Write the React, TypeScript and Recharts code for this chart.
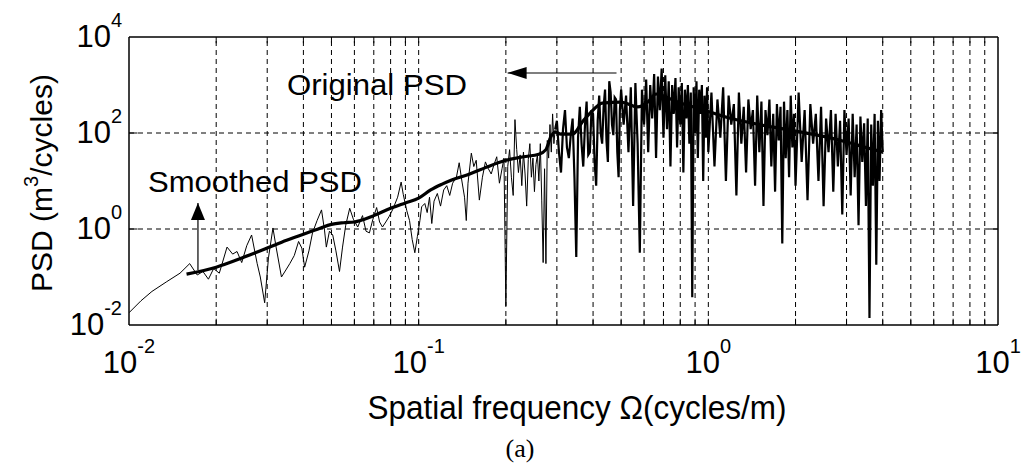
import { LineChart, Line, XAxis, YAxis, ReferenceLine, ReferenceDot, Label } from 'recharts';

const FONT = '"Liberation Sans", Arial, sans-serif';

// axis ticks / grid positions
const xDecades = [0.01, 0.1, 1, 10];
const yDecades = [0.01, 1, 100, 10000];
const xGrid = [
  0.02, 0.03, 0.04, 0.05, 0.06, 0.07, 0.08, 0.09, 0.1,
  0.2, 0.3, 0.4, 0.5, 0.6, 0.7, 0.8, 0.9, 1,
  2, 3, 4, 5, 6, 7, 8, 9,
];
const yGrid = [1, 100];

// original PSD, [frequency, psd]
const origLow: [number, number][] = [
  [0.01, 0.018], [0.011, 0.032], [0.012, 0.05], [0.0135, 0.08], [0.015, 0.12], [0.0162, 0.19],
  [0.0172, 0.11], [0.018, 0.13], [0.0188, 0.09], [0.0196, 0.15], [0.0205, 0.12], [0.0218, 0.42],
  [0.0228, 0.3], [0.0236, 0.34], [0.0245, 0.2], [0.0255, 0.45], [0.0265, 0.75], [0.0277, 0.19],
  [0.0284, 0.1], [0.0294, 0.029], [0.0303, 0.25], [0.0314, 1.05], [0.0322, 0.42], [0.0336, 0.1],
  [0.0348, 0.14], [0.0359, 0.19], [0.0372, 0.28], [0.0385, 0.55], [0.0395, 0.4], [0.0404, 0.16],
  [0.0418, 0.35], [0.043, 0.83], [0.0446, 1.5], [0.0462, 2.5], [0.0473, 0.95], [0.048, 0.42],
  [0.0492, 0.9], [0.0505, 0.75], [0.0518, 0.35], [0.0533, 0.13], [0.0546, 0.42], [0.056, 1.2],
  [0.0578, 2.7], [0.0595, 1.6], [0.0616, 1.1], [0.064, 1.9], [0.0658, 0.9], [0.0676, 0.83],
  [0.0695, 1.6], [0.0716, 2.8], [0.0733, 1.4], [0.075, 1.1], [0.077, 1.4], [0.079, 1.8],
  [0.0815, 2.6], [0.0846, 4.6], [0.087, 9.5], [0.0885, 5.2], [0.091, 2.4], [0.093, 1.5],
  [0.095, 0.6], [0.097, 0.32], [0.099, 0.7], [0.101, 1.5], [0.1024, 2.9], [0.105, 3.4],
  [0.107, 2.2], [0.109, 4.6], [0.111, 1.3], [0.113, 3.8], [0.116, 5.5], [0.119, 3.0],
  [0.122, 6.5], [0.125, 8.0], [0.128, 5.0], [0.131, 9.0], [0.135, 12], [0.138, 24],
  [0.141, 10], [0.144, 4.6], [0.146, 1.5], [0.148, 9], [0.152, 38], [0.155, 20],
  [0.158, 27], [0.162, 4], [0.166, 12], [0.17, 25], [0.174, 18], [0.178, 14],
  [0.182, 22], [0.186, 32], [0.19, 9], [0.194, 18], [0.197, 30], [0.2, 0.025], [0.203, 20],
];

const origMid: [number, number][] = [
  [0.206, 45], [0.209, 12], [0.212, 5], [0.215, 190], [0.218, 45], [0.221, 15], [0.224, 35],
  [0.227, 8], [0.23, 40], [0.233, 14], [0.236, 3], [0.239, 28], [0.242, 60], [0.245, 12],
  [0.248, 30], [0.251, 6], [0.254, 22], [0.257, 35], [0.26, 10], [0.263, 60], [0.266, 4],
  [0.269, 0.2], [0.272, 18], [0.275, 0.19], [0.278, 70], [0.281, 30], [0.284, 150], [0.287, 40],
  [0.29, 250], [0.293, 60], [0.296, 120],
];

const origDense: [number, number][] = [
  [0.3, 180], [0.305, 40], [0.31, 15], [0.315, 120], [0.32, 300], [0.325, 50], [0.33, 30],
  [0.335, 90], [0.34, 200], [0.345, 12], [0.35, 0.26], [0.355, 80], [0.36, 350], [0.365, 60],
  [0.37, 20], [0.375, 140], [0.38, 450], [0.385, 35], [0.39, 40], [0.395, 300], [0.4, 250],
  [0.405, 25], [0.41, 8], [0.415, 180], [0.42, 600], [0.425, 100], [0.43, 60], [0.435, 350],
  [0.44, 800], [0.445, 70], [0.45, 25], [0.455, 1200], [0.46, 700], [0.465, 150], [0.47, 90],
  [0.475, 550], [0.48, 500], [0.485, 40], [0.49, 12], [0.495, 300],
  [0.5, 800], [0.51, 150], [0.52, 600], [0.53, 40], [0.54, 900], [0.55, 3], [0.56, 1100],
  [0.57, 60], [0.58, 0.32], [0.59, 800], [0.6, 150], [0.61, 1300], [0.62, 40], [0.63, 1000],
  [0.64, 200], [0.65, 1700], [0.66, 30], [0.67, 1500], [0.68, 300], [0.69, 2200], [0.7, 80],
  [0.71, 1600], [0.72, 120], [0.73, 1200], [0.74, 20], [0.75, 1000], [0.76, 250], [0.77, 1400],
  [0.78, 50], [0.79, 900], [0.8, 150], [0.81, 1100], [0.82, 15], [0.83, 800], [0.84, 200],
  [0.85, 1000], [0.86, 60], [0.87, 700], [0.88, 0.038], [0.89, 900], [0.9, 100], [0.91, 1200],
  [0.92, 30], [0.93, 800], [0.94, 250], [0.95, 1000], [0.96, 10], [0.97, 600], [0.98, 80],
  [0.99, 900], [1.0, 40],
];

const origTail: [number, number][] = [
  [1.025, 700], [1.05, 20], [1.075, 500], [1.1, 80], [1.125, 900], [1.15, 10], [1.175, 600],
  [1.2, 150], [1.225, 400], [1.25, 5], [1.275, 700], [1.3, 60], [1.325, 350], [1.35, 15],
  [1.375, 500], [1.4, 120], [1.425, 300], [1.45, 8], [1.475, 600], [1.5, 40], [1.525, 450],
  [1.55, 3], [1.575, 300], [1.6, 90], [1.625, 500], [1.65, 20], [1.675, 250], [1.7, 6],
  [1.725, 400], [1.75, 70], [1.775, 350], [1.8, 0.5], [1.825, 450], [1.85, 30], [1.875, 300],
  [1.9, 12], [1.925, 600], [1.95, 50], [1.975, 250], [2.0, 8], [2.05, 700], [2.1, 25],
  [2.15, 300], [2.2, 4], [2.25, 400], [2.3, 60], [2.35, 250], [2.4, 10], [2.45, 350],
  [2.5, 3], [2.55, 200], [2.6, 40], [2.65, 300], [2.7, 6], [2.75, 250], [2.8, 20],
  [2.85, 180], [2.9, 2], [2.95, 300], [3.0, 35], [3.05, 200], [3.1, 5], [3.15, 250],
  [3.2, 12], [3.25, 150], [3.3, 1.2], [3.35, 220], [3.4, 25], [3.45, 160], [3.5, 3],
  [3.55, 200], [3.6, 0.014], [3.65, 150], [3.7, 8], [3.75, 250], [3.8, 0.18], [3.85, 180],
  [3.9, 10], [3.95, 300], [4.0, 40],
];

// smoothed PSD
const smoothed: [number, number][] = [
  [0.0158, 0.115], [0.02, 0.16], [0.025, 0.26], [0.03, 0.4], [0.035, 0.58], [0.04, 0.78],
  [0.045, 1.0], [0.05, 1.25], [0.055, 1.35], [0.06, 1.4], [0.065, 1.6], [0.07, 1.9],
  [0.08, 2.7], [0.09, 3.5], [0.1, 4.4], [0.11, 6.5], [0.12, 8.5], [0.13, 10.5],
  [0.15, 14], [0.17, 19], [0.2, 27], [0.23, 32], [0.26, 36], [0.275, 45], [0.285, 80],
  [0.295, 105], [0.31, 95], [0.34, 95], [0.37, 180], [0.4, 300], [0.43, 420], [0.5, 440],
  [0.57, 350], [0.62, 450], [0.66, 650], [0.72, 550], [0.8, 420], [0.9, 340], [1.0, 280],
  [1.2, 200], [1.5, 150], [2.0, 110], [2.5, 85], [3.0, 65], [3.5, 50], [4.0, 40],
];

// annotation anchors [frequency, psd]
const originalText: [number, number] = [0.0351, 620];
const originalArrow: [number, number][] = [[0.482, 1780], [0.2028, 1780]];
const smoothedText: [number, number] = [0.01163, 5.9];
const smoothedArrow: [number, number][] = [[0.0173, 0.14], [0.0173, 3.5]];

const toPts = (arr: [number, number][]) => arr.map(([f, v]) => ({ f, v }));
const originalSparse = toPts([...origLow, ...origMid]);
const originalDense = toPts([origMid[origMid.length - 1], ...origDense, ...origTail]);
const smoothedData = toPts(smoothed);

const XTick = (props: any) => {
  const { x, payload } = props;
  const exp = Math.round(Math.log10(payload.value));
  return (
    <text x={x} y={373} textAnchor="middle" fontFamily={FONT} fontSize={31} fill="#000">
      <tspan>10</tspan>
      <tspan dy={-20} fontSize={20}>{exp}</tspan>
    </text>
  );
};

const YTick = (props: any) => {
  const { y, payload } = props;
  const exp = Math.round(Math.log10(payload.value));
  return (
    <text x={122} y={y + 10} textAnchor="end" fontFamily={FONT} fontSize={31} fill="#000">
      <tspan>10</tspan>
      <tspan dy={-20} fontSize={20}>{exp}</tspan>
    </text>
  );
};

export default function App() {
  return (
    <div style={{ position: 'absolute', left: 0, top: 0, width: 1028, height: 467, background: '#fff' }}>
      <LineChart width={1028} height={467} margin={{ top: 37, right: 30, left: 0, bottom: 0 }}>
        <XAxis
          dataKey="f"
          type="number"
          scale="log"
          domain={[0.01, 10]}
          ticks={xDecades}
          allowDataOverflow
          height={142}
          axisLine={{ stroke: '#000', strokeWidth: 1.5 }}
          tickLine={false}
          tick={<XTick />}
          interval={0}
        >
          <Label
            content={() => (
              <g>
                <text x={577} y={419} textAnchor="middle" fontFamily={FONT} fontSize={33} textLength={419} lengthAdjust="spacingAndGlyphs" fill="#000">
                  Spatial frequency Ω(cycles/m)
                </text>
                <text x={520} y={457} textAnchor="middle" fontFamily='"Liberation Serif", "Times New Roman", serif' fontSize={26} fill="#000">
                  (a)
                </text>
              </g>
            )}
          />
        </XAxis>
        <YAxis
          dataKey="v"
          type="number"
          scale="log"
          domain={[0.01, 10000]}
          ticks={yDecades}
          allowDataOverflow
          width={129}
          axisLine={{ stroke: '#000', strokeWidth: 1.5 }}
          tickLine={false}
          tick={<YTick />}
          interval={0}
        >
          <Label
            content={() => (
              <text x={52} y={183} transform="rotate(-90 52 183)" textAnchor="middle" fontFamily={FONT} fontSize={30} fill="#000">
                PSD (m<tspan dy={-14} fontSize={20}>3</tspan><tspan dy={14}>/cycles)</tspan>
              </text>
            )}
          />
        </YAxis>

        {xGrid.map((g) => (
          <ReferenceLine key={'xg' + g} x={g} stroke="#000" strokeWidth={1} strokeDasharray="5 4" />
        ))}
        {yGrid.map((g) => (
          <ReferenceLine key={'yg' + g} y={g} stroke="#000" strokeWidth={1} strokeDasharray="5 4" />
        ))}
        {xGrid.map((g) => (
          <ReferenceLine key={'xb' + g} segment={[{ x: g, y: 0.01 }, { x: g, y: 0.0135 }]} stroke="#000" strokeWidth={1} />
        ))}
        {xGrid.map((g) => (
          <ReferenceLine key={'xt' + g} segment={[{ x: g, y: 10000 }, { x: g, y: 7400 }]} stroke="#000" strokeWidth={1} />
        ))}
        {yGrid.map((g) => (
          <ReferenceLine key={'yl' + g} segment={[{ x: 0.01, y: g }, { x: 0.0107, y: g }]} stroke="#000" strokeWidth={1} />
        ))}
        {yGrid.map((g) => (
          <ReferenceLine key={'yr' + g} segment={[{ x: 10, y: g }, { x: 9.3, y: g }]} stroke="#000" strokeWidth={1} />
        ))}
        <ReferenceLine y={10000} stroke="#000" strokeWidth={1.5} />
        <ReferenceLine x={10} stroke="#000" strokeWidth={1.5} />

        <Line
          data={originalSparse}
          dataKey="v"
          type="linear"
          stroke="#000"
          strokeWidth={1}
          dot={false}
          isAnimationActive={false}
        />
        <Line
          data={originalDense}
          dataKey="v"
          type="linear"
          stroke="#000"
          strokeWidth={2.2}
          dot={false}
          isAnimationActive={false}
        />
        <Line
          data={smoothedData}
          dataKey="v"
          type="monotone"
          stroke="#000"
          strokeWidth={3.2}
          dot={false}
          isAnimationActive={false}
        />

        <ReferenceLine
          segment={originalArrow.map(([f, v]) => ({ x: f, y: v }))}
          stroke="#000"
          strokeWidth={1.2}
        />
        <ReferenceDot
          x={originalArrow[1][0]}
          y={originalArrow[1][1]}
          shape={(p: any) => (
            <polygon points={`${p.cx},${p.cy} ${p.cx + 19},${p.cy - 6} ${p.cx + 19},${p.cy + 6}`} fill="#000" />
          )}
        />
        <ReferenceLine
          segment={smoothedArrow.map(([f, v]) => ({ x: f, y: v }))}
          stroke="#000"
          strokeWidth={1.2}
        />
        <ReferenceDot
          x={smoothedArrow[1][0]}
          y={smoothedArrow[1][1]}
          shape={(p: any) => (
            <polygon points={`${p.cx},${p.cy} ${p.cx - 7},${p.cy + 17} ${p.cx + 7},${p.cy + 17}`} fill="#000" />
          )}
        />
        <ReferenceDot
          x={originalText[0]}
          y={originalText[1]}
          shape={(p: any) => (
            <text x={p.cx} y={p.cy} fontFamily={FONT} fontSize={30} textLength={180} lengthAdjust="spacingAndGlyphs" fill="#000">
              Original PSD
            </text>
          )}
        />
        <ReferenceDot
          x={smoothedText[0]}
          y={smoothedText[1]}
          shape={(p: any) => (
            <text x={p.cx} y={p.cy} fontFamily={FONT} fontSize={30} textLength={214} lengthAdjust="spacingAndGlyphs" fill="#000">
              Smoothed PSD
            </text>
          )}
        />
      </LineChart>
    </div>
  );
}
